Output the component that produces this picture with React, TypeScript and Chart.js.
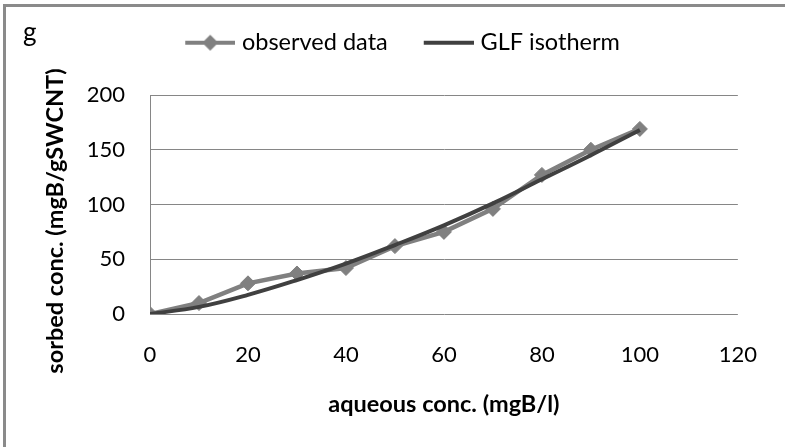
import React, { useEffect, useRef } from "react";
import { Chart, registerables } from "chart.js";

Chart.register(...registerables);

// ---- data ----
const aqueousConc = [0, 10, 20, 30, 40, 50, 60, 70, 80, 90, 100];
const observedData = [0, 10, 28, 37, 42, 62, 75, 96, 127, 150, 169];
const glfIsotherm = [0, 6.5, 17.5, 31, 46, 63, 81, 101, 123, 145, 168];
const xTickValues = [0, 20, 40, 60, 80, 100, 120];
const yTickValues = [0, 50, 100, 150, 200];
const seriesLabels = ["observed data", "GLF isotherm"];
const panelLetter = "g";
const xTitle = "aqueous conc. (mgB/l)";
const yTitle = "sorbed conc. (mgB/gSWCNT)";

const FONT = "Lato, 'Liberation Sans', sans-serif";
const OBS_COLOR = "#808080";
const GLF_COLOR = "#404040";
const GRID_COLOR = "#868686";

function makeMarker(color: string, diamond: boolean): HTMLCanvasElement {
  const c = document.createElement("canvas");
  c.width = 60;
  c.height = 18;
  const g = c.getContext("2d")!;
  g.strokeStyle = color;
  g.lineWidth = 4;
  g.beginPath();
  g.moveTo(10, 9);
  g.lineTo(60, 9);
  g.stroke();
  if (diamond) {
    g.fillStyle = color;
    g.beginPath();
    g.moveTo(27, 9);
    g.lineTo(35, 1);
    g.lineTo(43, 9);
    g.lineTo(35, 17);
    g.closePath();
    g.fill();
  }
  return c;
}

const decorPlugin = {
  id: "decor",
  beforeLayout(chart: any) {
    const lg = chart.legend;
    if (lg && !lg.__patched) {
      const orig = lg.fit.bind(lg);
      lg.fit = () => {
        orig();
        lg.height = 95;
      };
      lg.__patched = true;
    }
  },
  beforeDraw(chart: any) {
    const ctx = chart.ctx;
    ctx.save();
    ctx.fillStyle = "#ffffff";
    ctx.fillRect(0, 0, chart.width, chart.height);
    ctx.strokeStyle = "#8a8a8a";
    ctx.lineWidth = 3;
    ctx.beginPath();
    ctx.moveTo(4.5, chart.height + 5);
    ctx.lineTo(4.5, 5.5);
    ctx.lineTo(chart.width + 5, 5.5);
    ctx.stroke();
    ctx.restore();
  },
  afterDraw(chart: any) {
    const ctx = chart.ctx;
    const area = chart.chartArea;
    ctx.save();
    ctx.fillStyle = "#000000";
    ctx.font = `26px ${FONT}`;
    ctx.textAlign = "left";
    ctx.textBaseline = "alphabetic";
    ctx.fillText(panelLetter, 23, 41);
    ctx.translate(63, (area.top + area.bottom) / 2 + 16.5);
    ctx.rotate(-Math.PI / 2);
    ctx.font = `bold 23.5px ${FONT}`;
    ctx.textAlign = "center";
    ctx.textBaseline = "alphabetic";
    ctx.fillText(yTitle, 0, 0);
    ctx.restore();
  },
};

export default function App() {
  const ref = useRef<HTMLCanvasElement>(null);

  useEffect(() => {
    const canvas = ref.current;
    if (!canvas) return;
    const obsMarker = makeMarker(OBS_COLOR, true);
    const glfMarker = makeMarker(GLF_COLOR, false);

    const chart = new Chart(canvas, {
      type: "line",
      data: {
        datasets: [
          {
            label: seriesLabels[0],
            data: aqueousConc.map((x, i) => ({ x, y: observedData[i] })),
            borderColor: OBS_COLOR,
            backgroundColor: OBS_COLOR,
            borderWidth: 4.5,
            pointStyle: "rectRot",
            pointRadius: 7.5,
            pointBorderWidth: 1,
            pointBorderColor: OBS_COLOR,
            pointBackgroundColor: OBS_COLOR,
            tension: 0,
            fill: false,
            order: 1,
          },
          {
            label: seriesLabels[1],
            data: aqueousConc.map((x, i) => ({ x, y: glfIsotherm[i] })),
            borderColor: GLF_COLOR,
            backgroundColor: GLF_COLOR,
            borderWidth: 4,
            pointRadius: 0,
            tension: 0.4,
            fill: false,
            order: 0,
          },
        ],
      },
      options: {
        responsive: false,
        animation: false,
        events: [],
        layout: { padding: { left: 15, right: 0, top: 0, bottom: 0 } },
        plugins: {
          tooltip: { enabled: false },
          title: { display: false },
          legend: {
            display: true,
            position: "top",
            align: "center",
            labels: {
              usePointStyle: true,
              pointStyleWidth: 50,
              padding: 31,
              color: "#000000",
              font: { family: FONT, size: 23.5 },
              generateLabels: () => [
                {
                  text: seriesLabels[0],
                  pointStyle: obsMarker,
                  fillStyle: "transparent",
                  strokeStyle: "transparent",
                  lineWidth: 0,
                  hidden: false,
                  datasetIndex: 0,
                  fontColor: "#000000",
                } as any,
                {
                  text: seriesLabels[1],
                  pointStyle: glfMarker,
                  fillStyle: "transparent",
                  strokeStyle: "transparent",
                  lineWidth: 0,
                  hidden: false,
                  datasetIndex: 1,
                  fontColor: "#000000",
                } as any,
              ],
            },
          },
        },
        scales: {
          x: {
            type: "linear",
            min: xTickValues[0],
            max: xTickValues[xTickValues.length - 1],
            afterBuildTicks: (s: any) => {
              s.ticks = xTickValues.map((v) => ({ value: v }));
            },
            ticks: {
              stepSize: 20,
              padding: 28,
              color: "#000000",
              font: { family: FONT, size: 22 },
              maxRotation: 0,
            },
            grid: { display: false, drawTicks: false },
            border: { display: false },
            title: {
              display: true,
              text: xTitle,
              color: "#000000",
              font: { family: FONT, size: 23.5, weight: "bold" },
              padding: { top: 0, bottom: 28 },
            },
            afterFit: (s: any) => {
              s.height = 133;
            },
          },
          y: {
            type: "linear",
            position: "left",
            min: yTickValues[0],
            max: yTickValues[yTickValues.length - 1],
            afterBuildTicks: (s: any) => {
              s.ticks = yTickValues.map((v) => ({ value: v }));
            },
            ticks: {
              stepSize: 50,
              padding: 25,
              color: "#000000",
              font: { family: FONT, size: 22 },
            },
            grid: { color: GRID_COLOR, lineWidth: 1, drawTicks: false },
            border: { display: true, color: GRID_COLOR, width: 1 },
            title: { display: false },
            afterFit: (s: any) => {
              s.width = 135;
            },
          },
          yRight: {
            type: "linear",
            position: "right",
            display: true,
            grid: { display: false, drawTicks: false },
            ticks: { display: false },
            border: { display: false },
            afterFit: (s: any) => {
              s.width = 42;
            },
          },
        },
      },
      plugins: [decorPlugin],
    } as any);

    return () => chart.destroy();
  }, []);

  return (
    <div
      style={{
        position: "fixed",
        left: 0,
        top: 0,
        width: 785,
        height: 447,
        overflow: "hidden",
        background: "#ffffff",
      }}
    >
      <canvas ref={ref} width={785} height={447} style={{ display: "block" }} />
    </div>
  );
}
